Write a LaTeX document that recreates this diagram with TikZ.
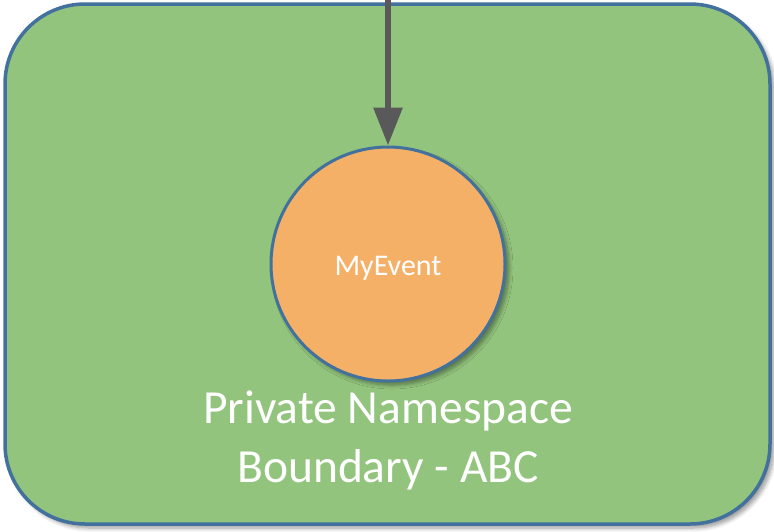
\documentclass[tikz,border=0pt]{standalone}
\usepackage{fontspec}
\setmainfont{Carlito}
\usetikzlibrary{arrows.meta,shadows.blur}
\definecolor{boxgreen}{RGB}{147,196,125}
\definecolor{evorange}{RGB}{245,176,104}
\definecolor{edgeblue}{RGB}{65,113,156}
\definecolor{arrowgray}{RGB}{89,89,89}
\tikzset{
  boundary/.style={draw=edgeblue, line width=3.5pt, fill=boxgreen, rounded corners=80pt,
    blur shadow={shadow xshift=4pt, shadow yshift=-4pt, shadow blur steps=6, shadow blur radius=4pt, shadow opacity=40}},
  eventnode/.style={circle, draw=edgeblue, line width=3pt, fill=evorange, minimum size=234pt, inner sep=0pt,
    text=white, font=\fontsize{30}{36}\selectfont,
    blur shadow={shadow xshift=4pt, shadow yshift=-4pt, shadow blur steps=6, shadow blur radius=4pt, shadow opacity=40}},
  bigtext/.style={text=white, font=\fontsize{47.5}{59}\selectfont, align=center, inner sep=0pt},
  flow/.style={draw=arrowgray, line width=6pt, -{Triangle[width=28pt, length=38pt]}}
}
\begin{document}
\begin{tikzpicture}[x=1pt, y=-1pt]
\useasboundingbox (0,0) rectangle (774,531);
\path[boundary] (5,4) rectangle (770,524);
\node[eventnode] (ev) at (388,264) {\raisebox{-11pt}[0pt][0pt]{MyEvent}};
\coordinate (src) at (388,-2);
\draw[flow] (src) -- (ev.north);
\node[bigtext, anchor=base] (lbl) at (388,482) {Private Namespace\\Boundary - ABC};
\end{tikzpicture}
\end{document}
